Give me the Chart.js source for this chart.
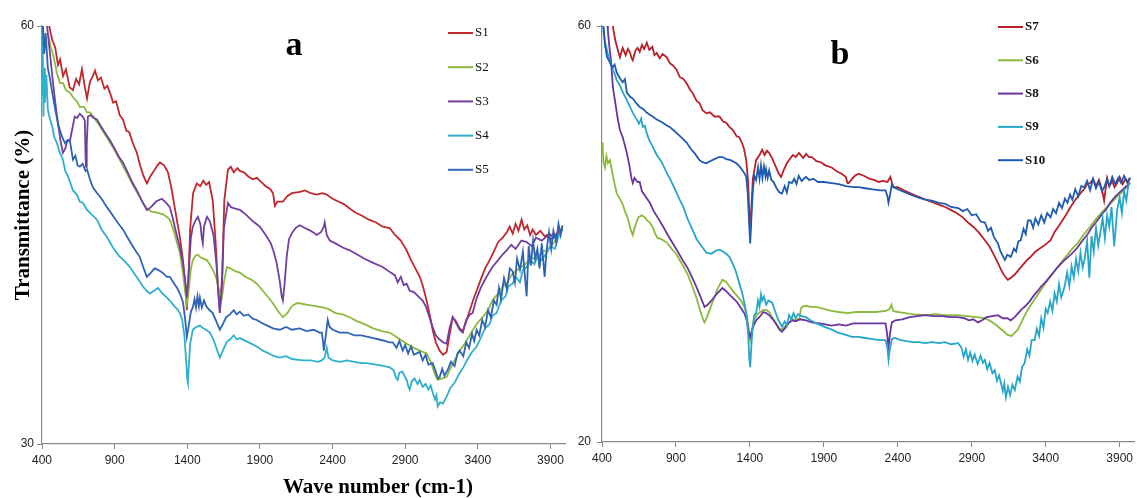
<!DOCTYPE html>
<html>
<head>
<meta charset="utf-8">
<script src="https://cdn.jsdelivr.net/npm/chart.js@4.4.1/dist/chart.umd.min.js"></script>
<style>
html, body { margin: 0; padding: 0; background: #fff; }
#wrap { position: relative; width: 1137px; height: 498px; overflow: hidden; }
#chartA { position: absolute; left: 0; top: 0; }
#chartB { position: absolute; left: 575px; top: 0; }
</style>
</head>
<body>
<div id="wrap">
  <canvas id="chartA" width="575" height="498"></canvas>
  <canvas id="chartB" width="562" height="498"></canvas>
</div>
<script>
// tick labels
const xTicks = [400, 900, 1400, 1900, 2400, 2900, 3400, 3900];
const yTicksA = [30, 60];
const yTicksB = [20, 60];

// series names
const labelsA = ['S1', 'S2', 'S3', 'S4', 'S5'];
const labelsB = ['S7', 'S6', 'S8', 'S9', 'S10'];

// panel a  [wave number, transmittance]
const s1 = [[420,60.5],[450,60],[470,59.0],[490,58.5],[510,57.2],[524,57.6],[545,56.4],[565,56.9],[590,55.6],[613,55.4],[635,56.2],[655,55.8],[675,56.9],[695,55.6],[710,54.8],[730,56.0],[750,56.4],[765,56.8],[785,56.1],[805,56.3],[830,55.5],[850,55.7],[868,55.2],[890,54.5],[910,54.6],[935,53.6],[957,53.3],[980,52.5],[1000,52.4],[1025,51.6],[1053,50.9],[1075,50.0],[1100,49.2],[1122,48.7],[1145,49.2],[1170,49.6],[1195,50.0],[1212,50.2],[1240,50.0],[1267,49.5],[1290,48.4],[1310,47.2],[1328,46.1],[1350,44.8],[1370,43.2],[1385,41.5],[1397,39.6],[1408,41.8],[1420,45.5],[1440,48.0],[1466,48.7],[1490,48.5],[1510,48.9],[1530,48.6],[1550,48.8],[1575,47.5],[1595,44.5],[1610,41.5],[1624,39.6],[1640,42.0],[1655,47.5],[1680,49.7],[1700,49.9],[1720,49.5],[1745,49.8],[1762,49.6],[1790,49.5],[1820,49.2],[1850,49.0],[1879,49.1],[1910,48.8],[1940,48.5],[1970,48.3],[1990,48.0],[2003,47.1],[2020,47.4],[2058,47.4],[2090,47.8],[2120,48.0],[2175,48.1],[2210,48.2],[2250,48.0],[2290,47.9],[2330,48.0],[2360,47.9],[2400,47.6],[2440,47.4],[2480,47.2],[2518,46.9],[2560,46.6],[2600,46.4],[2650,46.1],[2700,45.9],[2745,45.6],[2793,45.5],[2830,45.0],[2870,44.6],[2910,43.9],[2940,43.2],[2970,42.6],[3000,42.0],[3020,41.4],[3045,40.4],[3070,39.2],[3089,38.2],[3110,37.3],[3137,36.7],[3160,36.4],[3185,36.6],[3205,37.8],[3227,39.1],[3250,38.8],[3275,38.3],[3296,38.1],[3320,38.8],[3345,39.6],[3370,40.4],[3392,41.0],[3420,41.8],[3450,42.6],[3481,43.2],[3510,43.8],[3540,44.5],[3570,44.8],[3600,45.2],[3619,45.6],[3640,45.1],[3660,45.8],[3680,45.3],[3701,46.1],[3720,45.4],[3740,45.7],[3760,45.0],[3777,45.4],[3800,45.0],[3830,45.3],[3860,44.9],[3894,45.1],[3920,44.8],[3950,45.2],[3983,45.5]];
const s2 = [[440,59.5],[460,58.5],[480,57.8],[503,56.6],[524,55.9],[545,55.9],[565,55.4],[593,55.2],[620,54.8],[640,54.6],[661,54.2],[690,54.2],[710,53.8],[730,53.8],[760,53.4],[799,52.8],[840,52.1],[888,51.3],[930,50.5],[985,49.4],[1030,48.5],[1074,47.7],[1100,47.2],[1122,46.9],[1150,46.7],[1191,46.6],[1230,46.5],[1260,46.3],[1280,46.1],[1300,45.5],[1320,44.8],[1349,43.7],[1370,42.3],[1385,41.0],[1397,40.1],[1410,41.0],[1425,42.6],[1438,43.2],[1455,43.5],[1473,43.6],[1490,43.4],[1510,43.3],[1535,43.2],[1560,42.8],[1585,42.3],[1604,41.8],[1620,41.0],[1638,40.5],[1655,41.8],[1673,42.7],[1700,42.6],[1730,42.4],[1762,42.3],[1800,42.0],[1840,41.8],[1879,41.5],[1920,41.0],[1960,40.5],[1989,40.1],[2020,39.6],[2058,39.1],[2090,39.4],[2120,39.9],[2154,40.1],[2174,40.1],[2220,40.0],[2280,39.9],[2333,39.8],[2370,39.7],[2420,39.4],[2470,39.3],[2518,39.1],[2570,38.8],[2620,38.6],[2680,38.3],[2740,38.1],[2793,38.0],[2850,37.6],[2910,37.2],[2960,36.9],[3000,36.7],[3048,36.5],[3080,35.8],[3105,35.0],[3124,34.6],[3150,34.7],[3185,34.8],[3210,35.4],[3240,36.0],[3275,36.7],[3310,37.2],[3350,37.9],[3390,38.6],[3433,39.1],[3470,39.6],[3500,40.3],[3540,40.8],[3570,41.3],[3598,41.5],[3630,42.1],[3660,42.4],[3700,42.7],[3736,43.0],[3770,43.4],[3800,43.2],[3840,43.8],[3873,43.9],[3910,44.3],[3950,44.8],[3983,45.4]];
const s3 = [[430,60.5],[450,58.5],[470,56.5],[489,54.7],[510,53.0],[530,51.6],[544,50.9],[560,51.2],[575,51.8],[593,51.8],[610,52.7],[625,53.5],[641,53.4],[660,53.7],[680,53.5],[695,53.2],[700,50.5],[703,49.9],[708,51.5],[716,53.5],[735,53.6],[755,53.4],[778,53.3],[800,52.9],[830,52.4],[868,51.8],[900,51.2],[930,50.6],[957,50.2],[990,49.5],[1020,48.8],[1053,48.2],[1090,47.4],[1122,46.8],[1150,47.0],[1185,47.4],[1225,47.6],[1255,47.3],[1280,47.0],[1300,46.2],[1320,45.3],[1349,44.1],[1370,43.0],[1385,41.8],[1397,40.5],[1410,42.4],[1425,44.8],[1438,45.6],[1455,46.0],[1473,46.3],[1490,45.8],[1500,44.8],[1507,44.4],[1515,45.6],[1535,46.3],[1555,46.0],[1580,45.0],[1600,43.0],[1612,41.0],[1624,39.4],[1638,41.2],[1652,45.5],[1680,47.3],[1700,47.0],[1730,46.9],[1762,46.8],[1800,46.5],[1850,46.0],[1899,45.6],[1940,45.0],[1975,44.4],[1995,43.8],[2015,43.0],[2035,41.8],[2050,40.6],[2058,40.3],[2070,41.5],[2085,43.5],[2100,44.7],[2119,45.1],[2145,45.5],[2174,45.7],[2210,45.5],[2250,45.3],[2291,45.0],[2320,45.2],[2340,45.6],[2346,45.9],[2360,45.0],[2381,44.6],[2420,44.4],[2470,44.1],[2518,43.9],[2570,43.6],[2620,43.3],[2680,43.0],[2745,42.7],[2800,42.3],[2830,42.1],[2848,41.6],[2870,42.0],[2890,41.4],[2910,41.5],[2931,41.0],[2960,40.9],[2990,40.6],[3020,40.3],[3045,39.8],[3070,39.0],[3089,38.4],[3110,37.8],[3137,37.5],[3160,37.3],[3185,37.2],[3205,38.3],[3227,39.1],[3250,38.7],[3275,38.2],[3296,38.0],[3320,38.9],[3345,39.3],[3364,39.4],[3390,40.4],[3420,41.2],[3460,42.0],[3500,42.7],[3540,43.2],[3570,43.6],[3598,43.9],[3630,44.3],[3660,44.0],[3700,44.6],[3736,44.5],[3770,44.2],[3800,44.8],[3840,44.6],[3873,44.9],[3910,44.7],[3950,45.1],[3983,45.4]];
const s4 = [[400,60.5],[403,55.0],[406,59.0],[410,53.5],[415,57.0],[420,54.5],[430,56.5],[440,54.0],[455,53.3],[470,52.8],[485,52.0],[503,51.6],[520,51.0],[544,50.4],[560,49.6],[580,49.2],[613,48.2],[640,47.9],[660,47.4],[682,47.3],[710,46.8],[740,46.5],[778,46.1],[810,45.4],[850,44.8],[888,44.1],[930,43.5],[970,43.1],[1005,42.7],[1050,42.0],[1095,41.3],[1120,41.0],[1143,40.8],[1170,41.0],[1198,41.2],[1230,40.8],[1260,40.5],[1280,40.3],[1310,39.9],[1330,39.7],[1349,39.4],[1365,38.9],[1380,37.8],[1392,36.0],[1400,34.6],[1404,34.4],[1410,35.5],[1420,37.2],[1438,38.2],[1460,38.4],[1487,38.5],[1510,38.3],[1530,38.2],[1555,38.0],[1580,37.5],[1600,36.9],[1624,36.2],[1645,36.7],[1670,37.3],[1693,37.5],[1720,37.8],[1740,37.5],[1762,37.6],[1800,37.4],[1840,37.2],[1879,37.0],[1920,36.7],[1960,36.5],[2000,36.3],[2037,36.2],[2080,36.3],[2120,36.1],[2195,36.0],[2250,36.0],[2300,35.9],[2326,36.0],[2345,36.2],[2360,36.9],[2372,36.2],[2400,36.0],[2450,35.9],[2500,36.0],[2550,35.9],[2600,35.8],[2635,35.8],[2700,35.7],[2750,35.6],[2793,35.5],[2820,35.3],[2835,34.8],[2848,34.6],[2860,35.1],[2880,35.2],[2895,34.9],[2910,34.6],[2920,34.2],[2931,33.9],[2945,34.5],[2965,34.7],[2985,34.3],[3000,34.6],[3020,34.1],[3040,34.3],[3060,33.9],[3075,34.2],[3089,33.7],[3105,33.2],[3115,33.5],[3124,32.7],[3140,33.0],[3160,32.9],[3185,33.4],[3210,34.0],[3240,34.4],[3260,34.8],[3275,35.1],[3300,35.5],[3330,36.1],[3360,36.6],[3392,37.0],[3420,37.6],[3450,38.3],[3480,38.6],[3500,39.2],[3529,39.4],[3560,40.3],[3590,40.6],[3610,41.3],[3639,41.5],[3660,42.0],[3690,41.6],[3710,42.5],[3736,42.7],[3760,43.2],[3790,42.9],[3810,43.5],[3840,43.2],[3873,43.7],[3900,44.2],[3930,44.0],[3955,44.9],[3983,45.6]];
const s5 = [[405,60.5],[415,58.0],[425,59.5],[440,57.0],[455,56.2],[476,54.9],[495,53.8],[510,53.0],[524,52.5],[540,52.0],[558,51.6],[575,51.8],[593,51.7],[613,50.4],[630,50.7],[645,50.0],[661,49.9],[680,50.1],[700,49.6],[710,49.7],[730,49.0],[751,48.4],[780,48.0],[810,47.6],[847,47.0],[880,46.5],[920,45.9],[957,45.4],[990,44.8],[1030,44.1],[1074,43.4],[1100,42.6],[1122,42.0],[1150,42.3],[1175,42.6],[1198,42.5],[1230,42.3],[1260,42.0],[1280,42.0],[1310,41.5],[1330,41.2],[1349,40.8],[1370,40.2],[1385,39.0],[1397,37.7],[1410,38.5],[1425,39.5],[1438,39.8],[1450,40.4],[1460,39.8],[1470,40.6],[1480,39.9],[1487,40.5],[1500,39.8],[1515,40.3],[1530,39.9],[1545,39.7],[1555,39.6],[1575,39.4],[1600,38.8],[1624,38.2],[1645,38.6],[1668,39.1],[1693,39.3],[1720,39.6],[1740,39.3],[1762,39.5],[1790,39.2],[1820,39.3],[1850,39.0],[1879,38.9],[1910,38.7],[1950,38.5],[1990,38.3],[2037,38.2],[2080,38.4],[2120,38.2],[2174,38.3],[2220,38.1],[2270,38.2],[2310,38.0],[2326,38.0],[2336,37.2],[2340,36.7],[2350,37.5],[2367,38.9],[2380,38.4],[2401,38.2],[2450,38.0],[2500,38.0],[2550,37.8],[2600,37.8],[2635,37.7],[2680,37.6],[2720,37.5],[2760,37.4],[2790,37.3],[2814,37.3],[2840,36.9],[2860,37.4],[2883,36.7],[2900,37.1],[2920,36.5],[2940,37.0],[2960,36.4],[2979,36.5],[3000,36.6],[3020,36.0],[3040,36.4],[3060,35.7],[3089,35.8],[3110,35.2],[3125,34.7],[3137,34.8],[3155,35.4],[3170,34.9],[3192,35.3],[3215,35.9],[3240,35.6],[3260,36.5],[3275,36.7],[3300,36.3],[3320,37.3],[3340,36.9],[3360,37.9],[3375,37.4],[3392,38.2],[3410,37.8],[3430,38.9],[3450,38.4],[3470,39.6],[3490,39.1],[3510,40.3],[3529,40.0],[3545,41.2],[3560,40.4],[3580,41.9],[3600,41.1],[3620,42.6],[3639,42.4],[3655,41.6],[3670,43.3],[3690,42.5],[3710,43.8],[3722,42.3],[3736,40.6],[3750,44.2],[3765,42.8],[3780,44.6],[3795,43.3],[3810,44.0],[3825,42.6],[3840,44.4],[3860,42.0],[3873,43.9],[3890,45.2],[3905,44.0],[3920,45.3],[3940,44.5],[3955,45.8],[3970,45.0],[3983,45.7]];

// panel b  [wave number, transmittance]
const s7 = [[470,60.5],[474,59.9],[490,58.6],[505,57.8],[521,57.0],[540,57.9],[560,57.2],[575,57.8],[588,57.5],[600,56.9],[608,56.7],[625,57.6],[640,57.9],[655,57.5],[670,58.2],[685,57.8],[703,58.4],[720,57.7],[740,58.0],[755,57.2],[770,57.4],[790,56.9],[810,57.3],[837,57.0],[860,56.4],[880,56.2],[904,55.8],[925,55.1],[950,54.9],[972,54.5],[995,53.9],[1015,53.5],[1040,52.8],[1059,52.6],[1080,51.9],[1106,51.6],[1130,51.7],[1160,51.3],[1194,51.3],[1220,50.8],[1240,50.7],[1261,50.3],[1285,50.0],[1310,49.4],[1328,49.3],[1345,48.8],[1360,48.2],[1375,47.1],[1388,45.0],[1396,42.0],[1402,40.1],[1410,42.5],[1420,45.3],[1442,47.1],[1465,47.6],[1483,48.1],[1500,47.6],[1515,48.0],[1530,47.8],[1550,47.3],[1577,46.4],[1595,45.8],[1611,45.5],[1630,46.2],[1650,46.8],[1664,47.1],[1690,47.6],[1710,47.4],[1732,47.8],[1760,47.3],[1780,47.7],[1800,47.4],[1819,47.4],[1850,47.0],[1880,46.9],[1910,46.6],[1953,46.4],[1990,46.0],[2020,45.8],[2048,45.5],[2060,44.9],[2068,44.9],[2090,45.3],[2110,45.6],[2135,45.8],[2170,45.6],[2210,45.3],[2240,45.2],[2270,45.0],[2300,45.1],[2330,45.0],[2350,45.5],[2357,45.1],[2370,44.5],[2400,44.5],[2440,44.2],[2471,44.0],[2520,43.7],[2570,43.4],[2626,43.1],[2680,42.8],[2720,42.6],[2761,42.3],[2800,42.0],[2840,41.6],[2875,41.1],[2910,40.7],[2950,40.1],[2989,39.4],[3020,38.8],[3050,38.0],[3077,37.2],[3100,36.5],[3120,36.0],[3144,35.6],[3165,35.8],[3191,36.1],[3220,36.6],[3250,37.1],[3275,37.5],[3298,37.8],[3330,38.3],[3360,38.6],[3400,39.0],[3433,39.4],[3460,40.2],[3490,40.8],[3527,41.6],[3560,42.4],[3600,43.3],[3635,43.9],[3660,44.3],[3680,44.8],[3702,44.9],[3720,45.3],[3740,44.6],[3760,45.2],[3780,44.3],[3795,43.2],[3815,45.4],[3830,44.6],[3850,45.1],[3865,44.5],[3883,44.9],[3900,45.5],[3920,44.8],[3940,45.3],[3955,44.9],[3971,45.4]];
const s6 = [[400,48.8],[405,48.2],[410,47.0],[420,46.4],[430,47.5],[440,46.8],[454,47.1],[470,45.9],[485,44.8],[500,43.9],[520,43.4],[541,42.8],[560,42.0],[575,41.5],[590,40.6],[608,39.9],[625,40.8],[645,41.6],[669,41.8],[690,41.6],[705,41.3],[723,41.1],[745,40.6],[760,40.0],[777,39.6],[800,39.5],[837,39.2],[870,38.6],[900,38.1],[925,37.5],[950,36.9],[980,36.1],[1012,34.9],[1040,33.8],[1065,32.6],[1080,31.9],[1093,31.5],[1110,32.0],[1130,32.8],[1146,33.4],[1180,34.7],[1214,35.6],[1240,35.4],[1260,35.0],[1281,34.6],[1310,34.1],[1340,33.6],[1362,33.0],[1380,32.2],[1392,30.8],[1402,29.8],[1412,30.6],[1425,31.6],[1445,32.2],[1470,32.5],[1490,32.7],[1510,32.7],[1530,32.5],[1555,31.9],[1580,31.3],[1600,30.9],[1617,30.8],[1640,31.2],[1665,31.5],[1690,31.8],[1711,31.7],[1735,31.9],[1745,32.8],[1752,33.0],[1780,33.1],[1810,33.0],[1846,33.0],[1900,32.8],[1950,32.6],[2000,32.5],[2060,32.4],[2120,32.5],[2182,32.5],[2250,32.5],[2320,32.6],[2345,32.8],[2357,33.2],[2368,32.6],[2400,32.5],[2450,32.4],[2500,32.3],[2586,32.2],[2650,32.3],[2720,32.2],[2808,32.2],[2870,32.1],[2930,32.0],[2989,31.9],[3030,31.6],[3077,31.1],[3110,30.7],[3144,30.3],[3170,30.2],[3211,30.8],[3245,31.8],[3278,32.7],[3320,33.6],[3366,34.6],[3420,35.7],[3480,36.8],[3540,37.9],[3580,38.6],[3615,39.1],[3660,40.0],[3700,40.7],[3749,41.6],[3800,42.4],[3850,43.1],[3883,43.6],[3930,44.2],[3971,44.9]];
const s8 = [[435,60.5],[440,59.5],[450,58.0],[460,56.8],[474,54.1],[490,52.6],[505,51.2],[521,50.0],[540,49.3],[555,48.5],[568,47.8],[585,46.6],[600,45.3],[608,44.9],[620,45.4],[640,45.0],[655,45.0],[670,44.1],[690,43.7],[723,43.0],[750,42.2],[780,41.5],[810,40.8],[837,40.1],[870,39.3],[900,38.6],[945,37.5],[980,36.7],[1010,35.8],[1039,34.9],[1065,34.0],[1093,33.0],[1115,33.2],[1146,33.7],[1180,34.3],[1214,34.8],[1240,34.5],[1260,34.2],[1281,33.9],[1310,33.5],[1330,33.1],[1348,32.7],[1365,32.3],[1380,31.6],[1392,30.6],[1402,30.1],[1412,30.6],[1425,31.2],[1442,31.7],[1470,32.1],[1490,32.5],[1510,32.4],[1530,32.2],[1555,31.8],[1580,31.3],[1600,30.8],[1617,30.6],[1640,31.0],[1660,31.4],[1684,31.7],[1710,31.6],[1740,31.8],[1779,31.7],[1820,31.5],[1870,31.4],[1910,31.3],[1953,31.2],[2000,31.3],[2050,31.2],[2100,31.4],[2182,31.4],[2250,31.4],[2317,31.4],[2327,30.5],[2337,29.1],[2347,30.4],[2360,31.5],[2384,31.7],[2430,31.8],[2480,32.0],[2530,32.1],[2586,32.2],[2640,32.1],[2700,32.1],[2760,32.0],[2808,32.0],[2850,31.9],[2880,31.7],[2910,31.8],[2942,31.5],[2970,31.7],[3000,32.0],[3040,32.1],[3077,32.2],[3110,31.9],[3140,31.9],[3164,31.7],[3190,32.0],[3215,32.4],[3240,32.8],[3258,33.0],[3290,33.5],[3320,34.1],[3345,34.5],[3366,34.9],[3400,35.4],[3440,36.1],[3480,36.8],[3520,37.4],[3560,37.9],[3590,38.3],[3615,38.7],[3650,39.4],[3680,39.9],[3710,40.6],[3749,41.3],[3780,41.9],[3810,42.4],[3836,43.0],[3870,43.6],[3900,44.0],[3930,44.4],[3971,44.9]];
const s9 = [[405,60.5],[410,59.5],[420,58.5],[440,57.3],[460,56.4],[480,55.6],[500,54.8],[520,54.3],[545,53.5],[568,52.9],[590,52.2],[610,51.6],[635,51.0],[650,50.6],[665,51.1],[676,50.3],[690,50.4],[705,49.6],[720,49.0],[743,48.4],[770,47.6],[800,47.0],[837,45.9],[860,45.3],[890,44.4],[925,43.3],[950,42.6],[980,41.4],[1012,40.4],[1040,39.5],[1070,38.9],[1106,38.2],[1140,38.1],[1170,38.4],[1194,38.5],[1220,38.3],[1240,38.1],[1261,37.8],[1285,37.1],[1305,36.4],[1328,35.3],[1350,34.2],[1365,33.2],[1375,32.4],[1388,30.5],[1396,28.0],[1402,27.2],[1408,28.8],[1418,31.0],[1430,32.2],[1442,32.4],[1455,33.6],[1465,33.0],[1475,34.2],[1483,33.6],[1495,34.0],[1510,33.2],[1525,33.6],[1550,33.4],[1570,32.6],[1590,31.8],[1617,31.1],[1635,31.6],[1650,31.2],[1665,32.2],[1680,31.8],[1695,32.4],[1710,31.9],[1725,32.3],[1750,32.1],[1779,32.0],[1810,31.7],[1850,31.4],[1900,31.1],[1953,30.8],[2000,30.5],[2050,30.3],[2088,30.1],[2135,30.1],[2180,30.0],[2230,29.9],[2280,29.8],[2317,29.8],[2330,29.0],[2337,27.9],[2345,28.8],[2360,29.9],[2380,30.0],[2420,29.8],[2460,29.7],[2500,29.6],[2540,29.6],[2586,29.5],[2630,29.6],[2680,29.5],[2720,29.6],[2760,29.4],[2808,29.5],[2830,29.1],[2845,28.2],[2860,28.9],[2875,27.9],[2890,28.6],[2905,27.8],[2920,28.4],[2940,27.5],[2960,28.3],[2975,27.6],[2989,27.9],[3005,27.0],[3020,27.6],[3040,26.6],[3056,26.9],[3070,25.9],[3085,26.4],[3097,25.7],[3110,24.9],[3120,25.6],[3131,24.3],[3145,25.3],[3160,24.5],[3175,25.5],[3191,25.0],[3210,26.3],[3225,25.8],[3240,27.2],[3258,27.6],[3275,28.9],[3290,28.3],[3305,29.8],[3325,29.8],[3340,30.9],[3355,30.2],[3370,31.9],[3385,31.0],[3400,32.8],[3413,32.4],[3430,33.5],[3445,32.6],[3460,34.3],[3475,33.5],[3490,35.2],[3505,33.9],[3527,34.9],[3545,36.3],[3560,35.0],[3575,36.9],[3590,35.8],[3605,37.6],[3620,36.4],[3635,38.2],[3650,36.8],[3662,37.5],[3680,39.3],[3695,35.8],[3710,39.8],[3725,38.3],[3740,40.6],[3755,38.9],[3769,40.1],[3785,41.5],[3800,39.6],[3815,41.8],[3830,40.7],[3845,42.6],[3863,38.8],[3883,42.3],[3900,43.5],[3915,42.0],[3930,44.1],[3945,43.2],[3960,44.8],[3971,44.9]];
const s10 = [[405,60.5],[410,60.0],[420,58.2],[434,57.0],[450,56.6],[470,56.0],[485,56.3],[500,55.5],[520,55.0],[540,54.6],[555,54.9],[568,53.6],[590,53.2],[610,53.0],[630,52.6],[655,52.2],[680,52.0],[700,51.7],[720,51.5],[743,51.3],[770,51.0],[800,50.8],[830,50.5],[857,50.3],[890,49.9],[920,49.5],[950,49.1],[972,48.8],[1000,48.2],[1030,47.7],[1059,47.1],[1080,46.9],[1106,46.8],[1130,47.0],[1160,47.2],[1190,47.4],[1214,47.4],[1240,47.2],[1270,47.1],[1308,46.8],[1330,46.5],[1350,46.1],[1365,45.8],[1375,45.5],[1385,44.0],[1395,41.0],[1402,39.1],[1410,41.5],[1420,44.2],[1430,45.6],[1442,45.2],[1455,46.4],[1465,45.3],[1475,46.6],[1485,45.4],[1495,46.5],[1505,45.6],[1510,46.2],[1520,45.4],[1530,46.1],[1545,45.2],[1560,45.0],[1580,44.4],[1600,44.0],[1617,43.9],[1635,44.6],[1650,44.0],[1665,45.0],[1684,44.9],[1700,45.3],[1715,44.8],[1730,45.6],[1750,45.1],[1779,45.5],[1800,45.2],[1830,45.3],[1860,45.0],[1900,45.0],[1953,44.9],[2000,44.8],[2050,44.6],[2100,44.5],[2135,44.5],[2180,44.4],[2230,44.3],[2280,44.2],[2317,44.2],[2330,43.6],[2337,43.0],[2348,43.8],[2360,44.8],[2370,44.5],[2400,44.3],[2450,44.0],[2500,43.7],[2540,43.5],[2586,43.3],[2630,43.2],[2680,43.0],[2720,42.9],[2760,42.6],[2808,42.5],[2840,42.2],[2870,42.4],[2900,41.8],[2930,41.9],[2960,41.2],[2989,41.1],[3010,40.3],[3030,40.6],[3050,39.7],[3077,39.1],[3095,38.3],[3110,37.9],[3124,37.5],[3140,38.0],[3164,37.8],[3185,38.6],[3200,38.3],[3215,39.3],[3231,39.4],[3250,40.5],[3265,40.0],[3280,41.3],[3298,41.3],[3315,40.6],[3330,41.5],[3350,40.9],[3370,41.8],[3390,41.1],[3410,42.0],[3433,41.6],[3450,42.4],[3470,42.0],[3490,43.0],[3510,42.5],[3530,43.4],[3547,43.0],[3565,43.8],[3580,43.3],[3600,44.3],[3620,43.6],[3640,44.6],[3662,44.5],[3680,45.1],[3700,44.2],[3720,45.3],[3740,44.4],[3760,45.0],[3780,44.1],[3796,44.5],[3815,45.3],[3830,44.6],[3850,45.5],[3870,44.8],[3890,45.4],[3910,44.9],[3930,45.6],[3950,45.0],[3971,45.4]];

const colorsA = ['#c0282e', '#8dba3e', '#7040a0', '#2fb0cc', '#2f63b4'];
const colorsB = ['#b8202a', '#8dba3e', '#6a35a0', '#27a6c9', '#1f5bb0'];
const axisColor = '#8a8a8a';
const tickFont = { family: "'Liberation Sans Narrow', 'Liberation Sans', sans-serif", size: 12 };

function makeSets(series, labels, colors) {
  return series.map((s, i) => ({
    label: labels[i],
    data: s.map(p => ({ x: p[0], y: p[1] })),
    borderColor: colors[i],
    borderWidth: 1.8,
    pointRadius: 0,
    tension: 0,
    fill: false,
    order: series.length - i   // later series drawn on top, like the original
  }));
}

// legend, panel letter and axis titles
const decor = {
  id: 'decor',
  afterDraw(chart) {
    const o = chart.options.plugins.decor;
    const ctx = chart.ctx;
    ctx.save();
    ctx.textBaseline = 'middle';
    chart.data.datasets.forEach((ds, i) => {
      const y = o.legendY + i * o.legendGap;
      ctx.strokeStyle = ds.borderColor;
      ctx.lineWidth = 2;
      ctx.beginPath();
      ctx.moveTo(o.legendX, y);
      ctx.lineTo(o.legendX + 25, y);
      ctx.stroke();
      ctx.fillStyle = '#111';
      ctx.font = o.legendFont;
      ctx.textAlign = 'left';
      ctx.fillText(ds.label, o.legendX + 27, y);
    });
    ctx.textBaseline = 'alphabetic';
    ctx.textAlign = 'center';
    ctx.fillStyle = '#000';
    ctx.font = "bold 34px 'Liberation Serif', serif";
    ctx.fillText(o.letter, o.letterX, o.letterY);
    if (o.xTitle) {
      ctx.font = "bold 21px 'Liberation Serif', serif";
      ctx.textBaseline = 'middle';
      ctx.fillText(o.xTitle, o.xTitleX, o.xTitleY);
    }
    if (o.yTitle) {
      ctx.translate(o.yTitleX, o.yTitleY);
      ctx.rotate(-Math.PI / 2);
      ctx.font = "bold 21px 'Liberation Serif', serif";
      ctx.textBaseline = 'middle';
      ctx.fillText(o.yTitle, 0, 0);
    }
    ctx.restore();
  }
};

function makeOptions(yMin, yMax, yTicks, leftW, bottomH, padRight, yPad, deco) {
  return {
    responsive: false,
    animation: false,
    layout: { padding: { top: 26, right: padRight, left: 0, bottom: 0 } },
    plugins: { legend: { display: false }, tooltip: { enabled: false }, decor: deco },
    scales: {
      x: {
        type: 'linear', min: 400, max: 4000,
        afterBuildTicks: s => { s.ticks = xTicks.map(v => ({ value: v })); },
        afterFit: s => { s.height = bottomH; },
        grid: { drawOnChartArea: false, tickLength: 5, color: axisColor },
        border: { color: axisColor, width: 1.2 },
        ticks: { font: tickFont, color: '#222', padding: 4, maxRotation: 0, autoSkip: false, callback: v => String(v) }
      },
      y: {
        type: 'linear', min: yMin, max: yMax,
        afterBuildTicks: s => { s.ticks = yTicks.map(v => ({ value: v })); },
        afterFit: s => { s.width = leftW; },
        grid: { drawOnChartArea: false, tickLength: 5, color: axisColor },
        border: { color: axisColor, width: 1.2 },
        ticks: { font: tickFont, color: '#222', padding: yPad, autoSkip: false, callback: v => String(v) }
      }
    }
  };
}

new Chart(document.getElementById('chartA'), {
  type: 'line',
  data: { datasets: makeSets([s1, s2, s3, s4, s5], labelsA, colorsA) },
  options: makeOptions(30, 60, yTicksA, 42, 54, 10, 3, {
    legendX: 448, legendY: 33, legendGap: 34.2,
    legendFont: "13px 'Liberation Serif', serif",
    letter: 'a', letterX: 294, letterY: 55,
    xTitle: 'Wave number (cm-1)', xTitleX: 378, xTitleY: 488,
    yTitle: 'Transmittance (%)', yTitleX: 24, yTitleY: 215
  }),
  plugins: [decor]
});

new Chart(document.getElementById('chartB'), {
  type: 'line',
  data: { datasets: makeSets([s7, s6, s8, s9, s10], labelsB, colorsB) },
  options: makeOptions(20, 60, yTicksB, 27, 56, 0, 6, {
    legendX: 423, legendY: 27, legendGap: 33.3,
    legendFont: "bold 13px 'Liberation Serif', serif",
    letter: 'b', letterX: 265, letterY: 64
  }),
  plugins: [decor]
});
</script>
</body>
</html>
